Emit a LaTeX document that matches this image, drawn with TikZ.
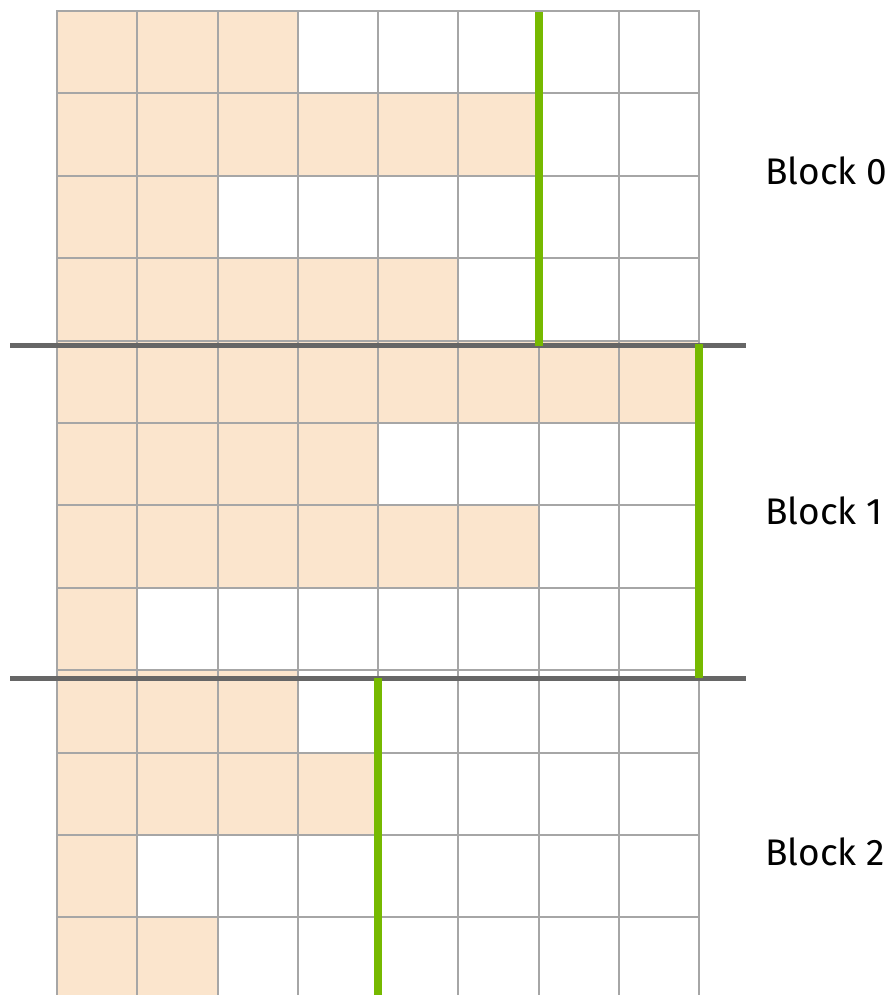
\documentclass[tikz,border=0pt]{standalone}
\usepackage{fontspec}
\setmainfont{Fira Sans}
\definecolor{fillc}{HTML}{FBE5CD}
\definecolor{gridc}{HTML}{A6A6A6}
\definecolor{sepc}{HTML}{666666}
\definecolor{nvgreen}{HTML}{76B900}
\tikzset{
  gridline/.style={draw=gridc, line width=2pt},
  sepline/.style={draw=sepc, line width=5pt},
  boundline/.style={draw=nvgreen, line width=7.5pt},
  blocklabel/.style={anchor=base west, inner sep=0pt, font=\fontsize{37}{40}\selectfont}
}
\begin{document}
\begin{tikzpicture}[x=1pt,y=-1pt]
\clip (0,0) rectangle (890,995);
\fill[white] (0,0) rectangle (890,995);
\def\cw{80.25}
\def\rh{82.4}
% filled cells
\foreach \r/\n in {0/3,1/6,2/2,3/5,4/8,5/4,6/6,7/1,8/3,9/4,10/1,11/2}
  \fill[fillc] (57,{11+\r*\rh}) rectangle ({57+\n*\cw},{11+(\r+1)*\rh});
% grid
\foreach \c in {0,...,8}
  \draw[gridline] ({57+\c*\cw},11) -- ({57+\c*\cw},1000);
\foreach \r in {0,...,11}
  \draw[gridline] (56,{11+\r*\rh}) -- (700,{11+\r*\rh});
% block separators
\coordinate (s1l) at (10,345.5);
\coordinate (s1r) at (746,345.5);
\coordinate (s2l) at (10,678);
\coordinate (s2r) at (746,678);
\draw[sepline] (s1l) -- (s1r);
\draw[sepline] (s2l) -- (s2r);
% green boundaries
\coordinate (g0t) at (539,12);
\coordinate (g0b) at (539,345.7);
\coordinate (g1t) at (699,344);
\coordinate (g1b) at (699,678);
\coordinate (g2t) at (378,678);
\coordinate (g2b) at (378,1000);
\draw[boundline] (g0t) -- (g0b);
\draw[boundline] (g1t) -- (g1b);
\draw[boundline] (g2t) -- (g2b);
% labels
\node[blocklabel] (b0) at (765,185) {Block 0};
\node[blocklabel] (b1) at (765,524) {Block 1};
\node[blocklabel] (b2) at (765,865) {Block 2};
\end{tikzpicture}
\end{document}
